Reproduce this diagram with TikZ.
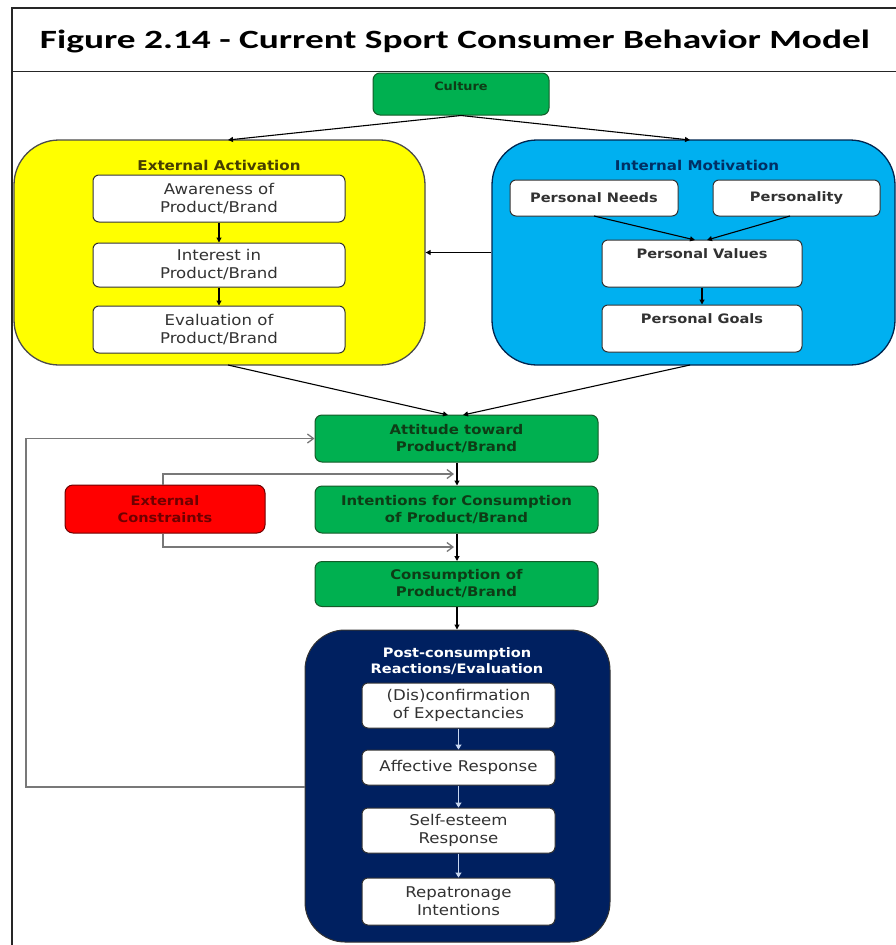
\documentclass[tikz,border=0pt]{standalone}
\usepackage{fontspec}
\usepackage{graphicx}
\usetikzlibrary{arrows.meta}
\newfontfamily\boxfont[FakeStretch=1.12]{DejaVu Sans}
\newfontfamily\headfont{Carlito}
\definecolor{gfill}{RGB}{0,176,80}
\definecolor{gline}{RGB}{20,90,40}
\definecolor{gtext}{RGB}{14,60,22}
\definecolor{yfill}{RGB}{255,255,0}
\definecolor{ytext}{RGB}{70,62,0}
\definecolor{bfill}{RGB}{0,176,240}
\definecolor{btext}{RGB}{0,48,100}
\definecolor{rfill}{RGB}{255,0,0}
\definecolor{rtext}{RGB}{110,0,0}
\definecolor{nfill}{RGB}{0,32,96}
\definecolor{wtext}{RGB}{50,50,50}
\definecolor{fbgray}{RGB}{120,120,120}
\definecolor{lightarr}{RGB}{200,215,240}
\tikzset{
  bigbox/.style={rounded corners=45pt, line width=1.3pt, minimum width=#1},
  greenbox/.style={draw=gline, fill=gfill, line width=1pt, rounded corners=7pt,
    font=\boxfont\bfseries\fontsize{13.3pt}{17pt}\selectfont, text=gtext, align=center,
    minimum width=283pt, minimum height=47pt, inner sep=0pt},
  whitebox/.style={draw=black!80, fill=white, line width=1pt, rounded corners=6pt,
    font=\boxfont\fontsize{14.8pt}{18pt}\selectfont, text=wtext, align=center, inner sep=0pt},
  persbox/.style={whitebox, font=\boxfont\bfseries\fontsize{13pt}{17pt}\selectfont},
  toplbl/.style={anchor=north, inner sep=0pt, font=\boxfont\bfseries\fontsize{13pt}{17pt}\selectfont, text=wtext},
  btitle/.style={inner sep=0pt, font=\boxfont\bfseries\fontsize{13.5pt}{17pt}\selectfont, align=center},
  blk/.style={draw=black, line width=1.1pt, -{Triangle[length=5pt,width=5pt]}},
  gry/.style={draw=fbgray, line width=1.8pt, -{Straight Barb[length=6pt,width=9pt,line width=1.3pt]}},
  lgt/.style={draw=lightarr, line width=1.3pt, -{Triangle[length=5pt,width=6pt]}},
  frame/.style={draw=black!85, line width=1.6pt}
}
\begin{document}
\begin{tikzpicture}[x=1pt,y=-1pt]
\useasboundingbox (0,0) rectangle (896,945);
\fill[white] (0,0) rectangle (896,945);
% frame
\draw[frame] (12,945) -- (12,8) -- (896,8);
\draw[frame] (12,71.5) -- (896,71.5);
\node[anchor=base, inner sep=0pt] (title) at (455,48)
  {\resizebox{830pt}{18.5pt}{\headfont\bfseries Figure 2.14 - Current Sport Consumer Behavior Model}};

% culture
\node[greenbox, minimum width=176pt, minimum height=42pt,
  label={[anchor=north, inner sep=0pt, yshift=-9pt, font=\boxfont\bfseries\fontsize{11.5pt}{14pt}\selectfont, text=gtext]north:Culture}]
  (culture) at (461,94) {};

% big containers
\node[bigbox=411pt, draw=black!70, fill=yfill, minimum height=225pt] (yellow) at (219.5,252.5) {};
\node[bigbox=403pt, draw=btext!80!black, fill=bfill, minimum height=225pt] (blue) at (693.5,252.5) {};
\node[btitle, text=ytext] (ytitle) at (219,165) {External Activation};
\node[btitle, text=btext] (btitle) at (697,165) {Internal Motivation};

% external activation
\node[whitebox, minimum width=252pt, minimum height=47pt] (aware) at (219,198.5) {Awareness of\\Product/Brand};
\node[whitebox, minimum width=252pt, minimum height=44pt] (interest) at (219,265) {Interest in\\Product/Brand};
\node[whitebox, minimum width=252pt, minimum height=47pt] (evalb) at (219,329.5) {Evaluation of\\Product/Brand};

% internal motivation
\node[persbox, minimum width=168pt, minimum height=36pt] (needs) at (594,198) {Personal Needs};
\node[persbox, minimum width=167pt, minimum height=36pt] (persy) at (796.5,198) {Personality};
\node[whitebox, minimum width=200pt, minimum height=47pt,
  label={[toplbl, yshift=-9pt]north:Personal Values}] (values) at (702,263.5) {};
\node[whitebox, minimum width=200pt, minimum height=47pt,
  label={[toplbl, yshift=-9pt]north:Personal Goals}] (goals) at (702,328.5) {};

% central column
\node[greenbox] (attitude) at (456.5,438.5) {Attitude toward\\Product/Brand};
\node[greenbox] (intent) at (456.5,509.5) {Intentions for Consumption\\of Product/Brand};
\node[greenbox, minimum height=45pt] (consum) at (456.5,584) {Consumption of\\Product/Brand};
\node[draw=rtext, fill=rfill, line width=1pt, rounded corners=8pt, minimum width=200pt, minimum height=48pt,
  font=\boxfont\bfseries\fontsize{13pt}{17pt}\selectfont, text=rtext, align=center, inner sep=0pt]
  (extc) at (165,509) {External\\Constraints};

% post-consumption
\node[draw=black!80, fill=nfill, line width=1pt, rounded corners=40pt, minimum width=305pt, minimum height=312pt] (navy) at (457.5,786) {};
\node[btitle, text=white, font=\boxfont\bfseries\fontsize{13pt}{16pt}\selectfont] (ntitle) at (457,661) {Post-consumption\\Reactions/Evaluation};
\node[whitebox, minimum width=193pt, minimum height=45pt] (dis) at (458.5,705.5) {(Dis)confirmation\\of Expectancies};
\node[whitebox, minimum width=193pt, minimum height=35pt] (aff) at (458.5,767.5) {Affective Response};
\node[whitebox, minimum width=193pt, minimum height=45pt] (self) at (458.5,830.5) {Self-esteem\\Response};
\node[whitebox, minimum width=193pt, minimum height=47pt] (rep) at (458.5,901.5) {Repatronage\\Intentions};

% connectors
\coordinate (cy) at (228,140);
\coordinate (cb) at (690,140);
\draw[blk] (culture.south) -- (cy);
\draw[blk] (culture.south) -- (cb);
\draw[blk] (aware) -- (interest);
\draw[blk] (interest) -- (evalb);
\draw[blk] (blue.west) -- (yellow.east);
\coordinate (nv) at (594,216);
\coordinate (vn) at (695,240);
\coordinate (pv) at (790,216);
\coordinate (vp) at (707,240);
\draw[blk] (nv) -- (vn);
\draw[blk] (pv) -- (vp);
\draw[blk] (values) -- (goals);
\coordinate (ys) at (228,365);
\coordinate (bs) at (690,365);
\coordinate (ay) at (448,415);
\coordinate (ab) at (463,415);
\draw[blk] (ys) -- (ay);
\draw[blk] (bs) -- (ab);
\draw[blk] (attitude.south -| 457,0) -- (intent.north -| 457,0);
\draw[blk] (intent.south -| 457,0) -- (consum.north -| 457,0);
\draw[blk] (consum.south -| 457,0) -- (navy.north -| 457,0);
\draw[gry] (extc.north -| 163,0) -- (163,474) -- (454,474);
\draw[gry] (extc.south -| 163,0) -- (163,547) -- (454,547);
\draw[gry] (navy.west |- 0,787) -- (26,787) -- (26,438.5) -- (attitude.west);
\draw[lgt] (dis) -- (aff);
\draw[lgt] (aff) -- (self);
\draw[lgt] (self) -- (rep);
\end{tikzpicture}
\end{document}
